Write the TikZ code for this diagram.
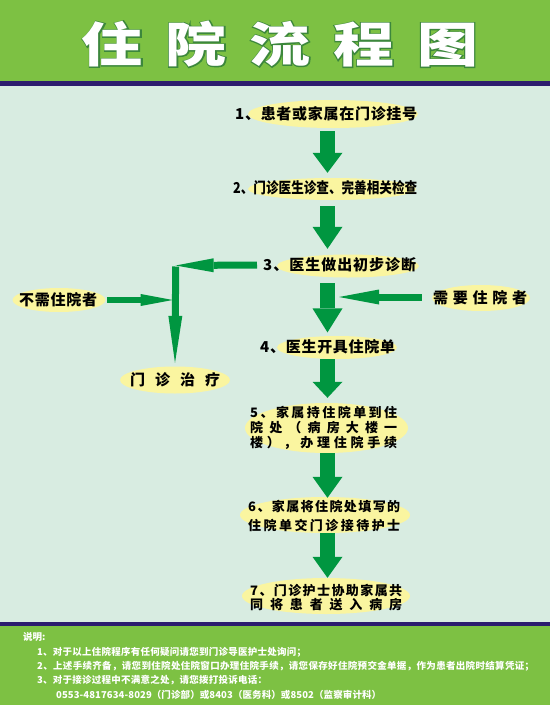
\documentclass[tikz,border=0pt]{standalone}
\usepackage{fontspec}
\usepackage{graphicx}
\usetikzlibrary{arrows.meta,shapes.geometric}
\setmainfont{Noto Sans CJK SC}
\newfontfamily\cjk{Noto Sans CJK SC}
\newfontfamily\cjkfat{Noto Sans CJK SC}[BoldFeatures={FakeBold=4}]
\definecolor{bandgreen}{RGB}{125,193,67}
\definecolor{navyline}{RGB}{44,28,110}
\definecolor{mintbg}{RGB}{216,236,225}
\definecolor{arrgreen}{RGB}{0,150,64}
\definecolor{ellyellow}{RGB}{250,245,160}
\definecolor{ttlline}{RGB}{60,135,60}
\def\spreadit#1{\spreadA#1\endsp}
\def\spreadA#1#2\endsp{#1\ifx\relax#2\relax\else\hfill\spreadA#2\endsp\fi}
\newlength\tlen
\newcommand\mytx[2]{\settowidth\tlen{#2}\ifdim\tlen<#1\relax\makebox[#1][s]{\spreadit{#2}}\else\resizebox{#1}{\height}{#2}\fi}
\tikzset{
  ell/.style={ellipse, fill=ellyellow, draw=none, inner sep=0pt},
  txt/.style={inner sep=0pt, anchor=west, text=black, font=\cjk\bfseries\fontsize{15}{17}\selectfont},
  txts/.style={inner sep=0pt, anchor=west, text=black, font=\cjk\bfseries\fontsize{13}{15}\selectfont},
  notetxt/.style={inner sep=0pt, anchor=west, text=white, font=\cjk\bfseries\fontsize{9.5}{11}\selectfont},
  ttlfont/.style={inner sep=0pt, font=\cjk\bfseries\fontsize{48}{50}\selectfont},
  ttlfat/.style={inner sep=0pt, font=\cjkfat\bfseries\fontsize{48}{50}\selectfont},
  bigarr/.style={draw=arrgreen, line width=15pt, -{Triangle[length=#1,width=30pt,line width=0pt,fill=arrgreen]}},
  bigarr/.default=21pt,
  sidearr/.style args={#1/#2/#3}{draw=arrgreen, line width=#1, -{Triangle[length=#2,width=#3,line width=0pt,fill=arrgreen]}}
}
\newcommand\ttltext{\scalebox{1.27}[1]{\makebox[312pt][s]{住\hfill 院\hfill 流\hfill 程\hfill 图}}}
\begin{document}
\begin{tikzpicture}[x=1pt,y=-1pt]
\useasboundingbox (0,0) rectangle (550,705);
% background bands
\fill[mintbg] (0,0) rectangle (550,705);
\fill[bandgreen] (0,0) rectangle (550,81);
\fill[navyline] (0,81) rectangle (550,86);
\fill[navyline] (0,622) rectangle (550,626);
\fill[bandgreen] (0,626) rectangle (550,705);
% title with outline (emboldened dark copy under white text)
\node[ttlfat,text=ttlline] (titleline) at (280,44) {\ttltext};
\node[ttlfont,text=white] (title) at (280,44) {\ttltext};
% ellipses
\node[ell, minimum width=170pt, minimum height=28pt] (n1) at (333,114) {};
\node[ell, minimum width=168pt, minimum height=22pt] (n2) at (332,189) {};
\node[ell, minimum width=142pt, minimum height=23pt] (n3) at (348,266) {};
\node[ell, minimum width=120pt, minimum height=23pt] (n4) at (337,347.5) {};
\node[ell, minimum width=163pt, minimum height=50pt] (n5) at (326.5,428) {};
\node[ell, minimum width=170pt, minimum height=36pt] (n6) at (325,515) {};
\node[ell, minimum width=168pt, minimum height=36pt] (n7) at (326,596) {};
\node[ell, minimum width=93pt, minimum height=24pt] (nl) at (59,300) {};
\node[ell, minimum width=98pt, minimum height=26pt] (nr) at (481,298) {};
\node[ell, minimum width=110pt, minimum height=27pt] (nm) at (175,380) {};
% texts
\node[txt] (t1) at (235,114) {\mytx{182pt}{1、患者或家属在门诊挂号}};
\node[txt] (t2) at (233,188) {\mytx{184pt}{2、门诊医生诊查、完善相关检查}};
\node[txt] (t3) at (263,265) {\mytx{153pt}{3、医生做出初步诊断}};
\node[txt] (t4) at (260,347) {\mytx{135pt}{4、医生开具住院单}};
\node[txts] (t5a) at (250,412) {\mytx{147pt}{5、家属持住院单到住}};
\node[txts] (t5b) at (250,428) {\mytx{147pt}{院处（病房大楼一}};
\node[txts] (t5c) at (250,443) {\mytx{147pt}{楼），办理住院手续}};
\node[txts] (t6a) at (248,507) {\mytx{152pt}{6、家属将住院处填写的}};
\node[txts] (t6b) at (248,525) {\mytx{152pt}{住院单交门诊接待护士}};
\node[txts] (t7a) at (250,590) {\mytx{152pt}{7、门诊护士协助家属共}};
\node[txts] (t7b) at (250,605) {\mytx{152pt}{同将患者送入病房}};
\node[txt] (tl) at (19,300) {\mytx{78pt}{不需住院者}};
\node[txt] (tr) at (433,298) {\mytx{94pt}{需要住院者}};
\node[txt] (tm) at (130,380) {\mytx{90pt}{门诊治疗}};
% main arrows
\coordinate (ax) at (327.5,0);
\draw[bigarr=20pt] ([yshift=-3pt]n1.south -| ax) -- ([yshift=5pt]n2.north -| ax);
\draw[bigarr=22pt] ([yshift=-6pt]n2.south -| ax) -- ([yshift=5.5pt]n3.north -| ax);
\draw[bigarr=24pt] ([yshift=-5.5pt]n3.south -| ax) -- ([yshift=3.4pt]n4.north -| ax);
\draw[bigarr=16pt] (n4.south -| ax) -- ([yshift=5pt]n5.north -| ax);
\draw[bigarr=21pt] (n5.south -| ax) -- ([yshift=-1pt]n6.north -| ax);
\draw[bigarr=21pt] (n6.south -| ax) -- (n7.north -| ax);
% side arrows
\coordinate (cor) at (175.7,265.5);
\draw[sidearr=7pt/38pt/14pt] ([xshift=-6pt]t3.west) -- (cor);
\draw[sidearr=7pt/47pt/14pt] ([yshift=-1pt]cor) -- ([yshift=3.5pt]nm.north);
\draw[sidearr=6pt/32pt/12pt] ([xshift=1.5pt]nl.east) -- ([xshift=-3pt]nl.east -| cor);
\draw[sidearr=7pt/40pt/15pt] ([xshift=-10pt,yshift=1pt]nr.west) -- ([xshift=11.5pt,yshift=1pt]nr.west -| ax);
% notes
\node[notetxt] (nt0) at (23,637) {说明:};
\node[notetxt] (nt1) at (37,652) {\mytx{269pt}{1、对于以上住院程序有任何疑问请您到门诊导医护士处询问；}};
\node[notetxt] (nt2) at (37,666) {\mytx{497pt}{2、上述手续齐备，请您到住院处住院窗口办理住院手续，请您保存好住院预交金单据，作为患者出院时结算凭证；}};
\node[notetxt] (nt3) at (37,680) {\mytx{230pt}{3、对于接诊过程中不满意之处，请您拨打投诉电话：}};
\node[notetxt] (nt4) at (56,695) {\mytx{325pt}{0553-4817634-8029（门诊部）或8403（医务科）或8502（监察审计科）}};
\end{tikzpicture}
\end{document}
